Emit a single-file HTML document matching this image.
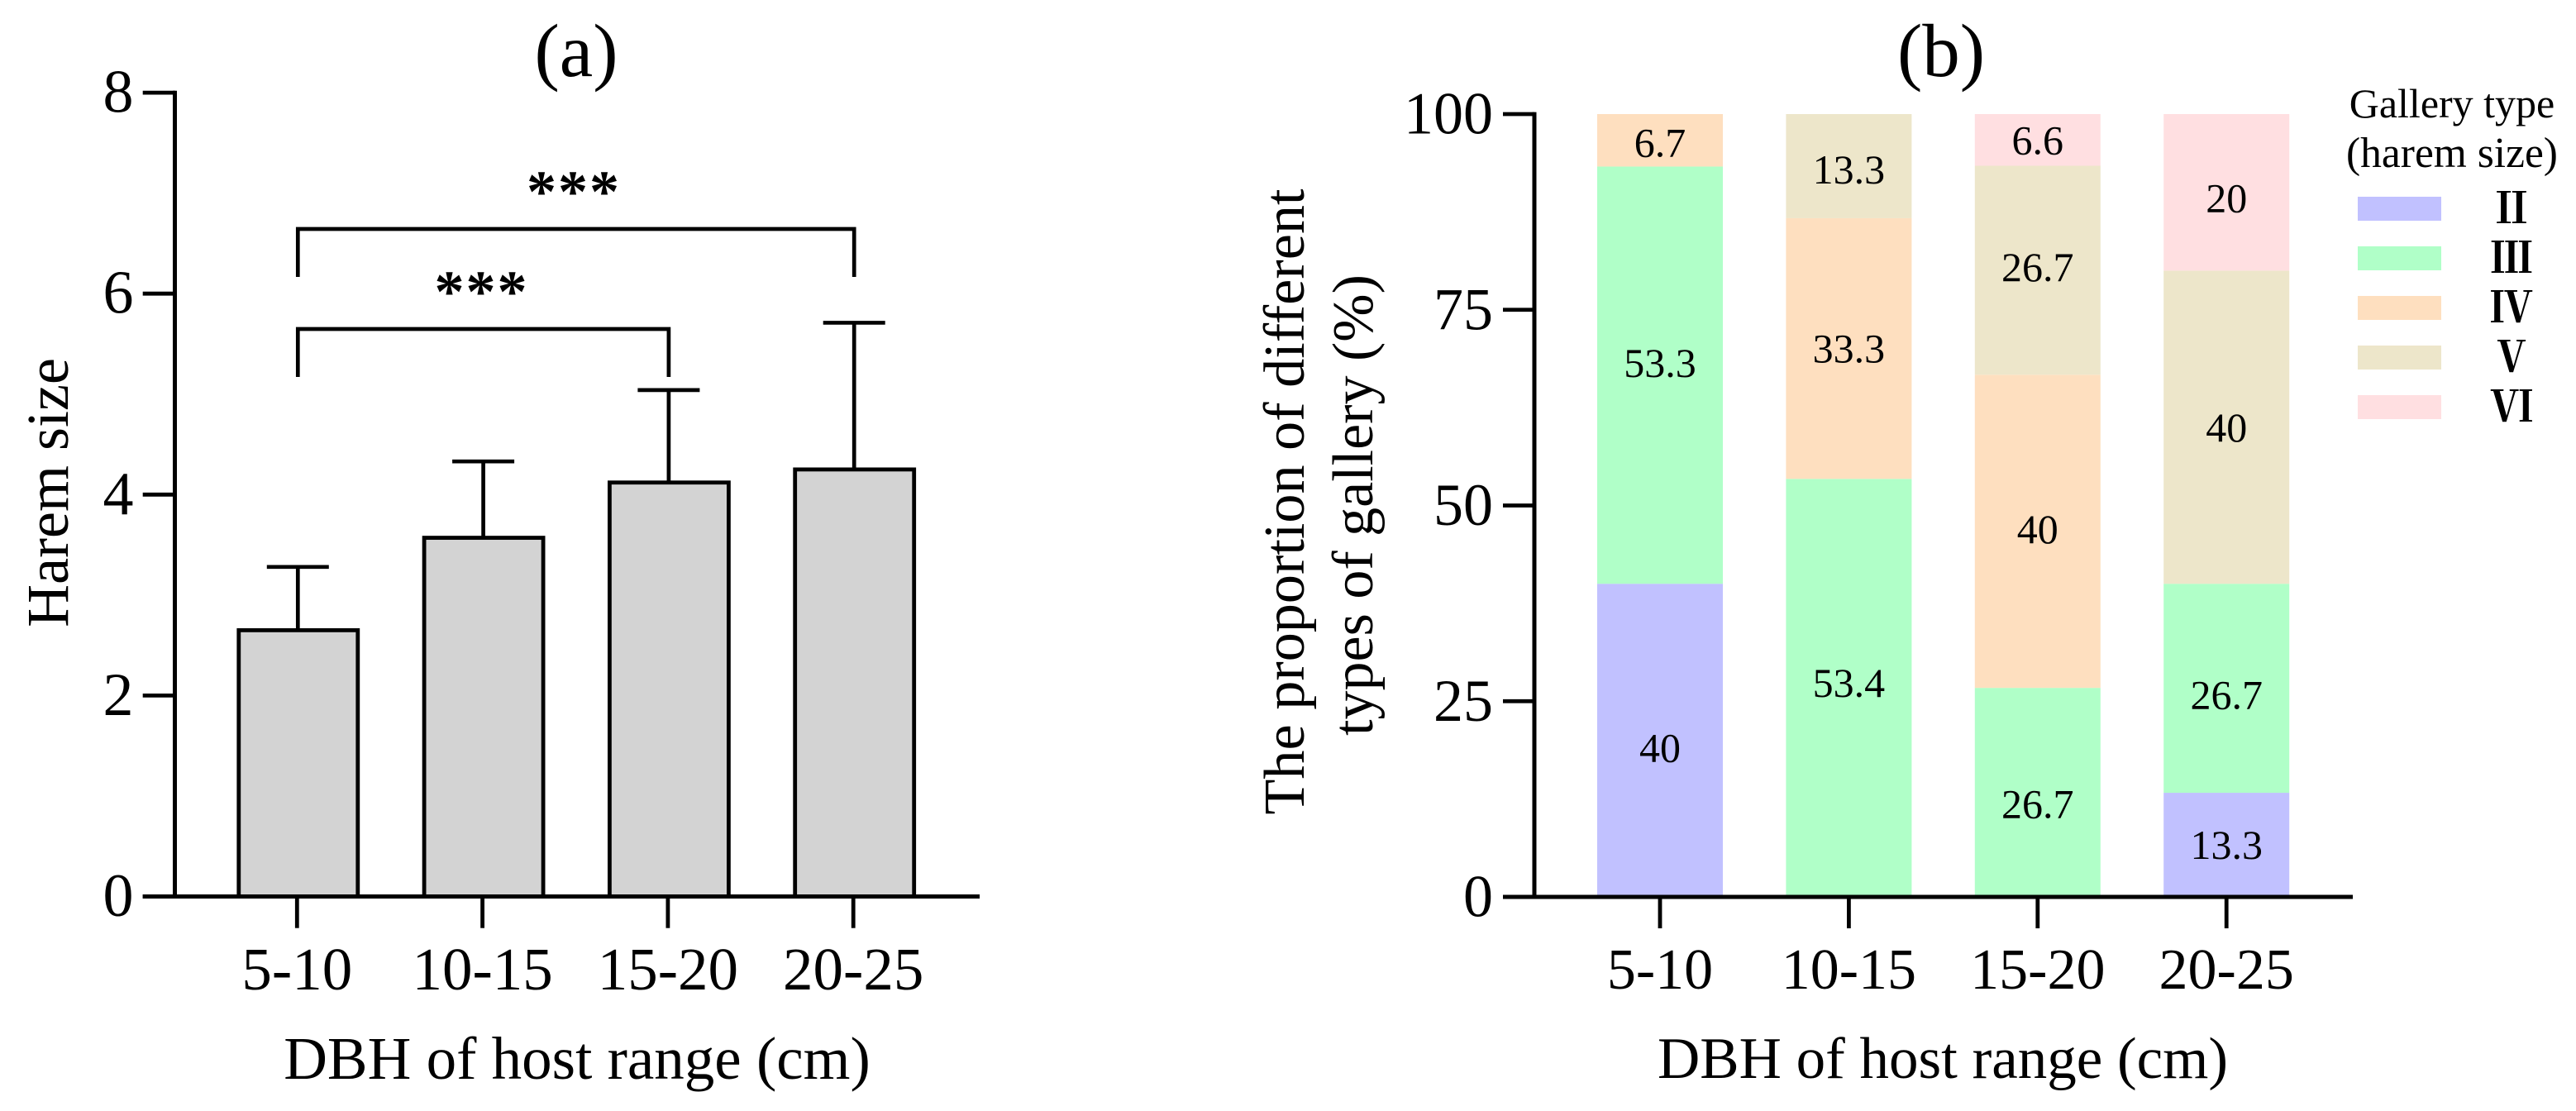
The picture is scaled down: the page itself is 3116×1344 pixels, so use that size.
<!DOCTYPE html>
<html lang="en">
<head>
<meta charset="utf-8">
<title>Harem size and gallery type by DBH of host range</title>
<style>
html,body{margin:0;padding:0;background:#fff;}
svg{display:block;}
text{font-family:"Liberation Serif","Noto Serif CJK SC",serif;fill:#000;}
</style>
</head>
<body>
<svg id="chart" xmlns="http://www.w3.org/2000/svg" width="3116" height="1344" viewBox="0 0 3116 1344">
  <rect x="0" y="0" width="3116" height="1344" fill="#fff"/>
  <g id="panelA">
    <text x="697" y="92" font-size="91" text-anchor="middle">(a)</text>
    <text transform="translate(82 596) rotate(-90)" font-size="72" text-anchor="middle">Harem size</text>
    <text x="698" y="1305" font-size="73" text-anchor="middle">DBH of host range (cm)</text>
  </g>
  <g id="panelB">
    <text x="2348" y="92" font-size="91" text-anchor="middle">(b)</text>
    <text transform="translate(1577 607) rotate(-90)" font-size="70.2" text-anchor="middle">The proportion of different</text>
    <text transform="translate(1660 611) rotate(-90)" font-size="70" text-anchor="middle">types of gallery (%)</text>
    <text x="2350" y="1304" font-size="71" text-anchor="middle">DBH of host range (cm)</text>
  </g>
  <g id="legend">
    <text x="2966" y="142" font-size="50" text-anchor="middle">Gallery type</text>
    <text x="2966" y="202" font-size="51.5" text-anchor="middle">(harem size)</text>
  </g>
</svg>
<script>
// Panel (a) data
var categories = ['5-10', '10-15', '15-20', '20-25'];
var haremMeans = [2.65, 3.57, 4.12, 4.25];
var haremErrors = [0.63, 0.76, 0.92, 1.46];
var haremTicks = [0, 2, 4, 6, 8];

// Panel (b) data
var seriesNames = ['II', 'III', 'IV', 'V', 'VI'];
var seriesGlyphs = ['\u2161', '\u2162', '\u2163', '\u2164', '\u2165'];
var seriesColors = ['#c1c1ff', '#b0ffc8', '#fedfbf', '#ede6ca', '#ffdfe1'];
var seriesII = [40, 0, 0, 13.3];
var seriesIII = [53.3, 53.4, 26.7, 26.7];
var seriesIV = [6.7, 33.3, 40, 0];
var seriesV = [0, 13.3, 26.7, 40];
var seriesVI = [0, 0, 6.6, 20];
var proportionTicks = [0, 25, 50, 75, 100];

var SVGNS = 'http://www.w3.org/2000/svg';
var panelA = document.getElementById('panelA');
var panelB = document.getElementById('panelB');
var legend = document.getElementById('legend');

// Axis functions
function xA(i) { return 359.3 + i * 224.3; }
function yA(v) { return 1084.5 - v * 121.55; }
function xB(i) { return 2008 + i * 228.4; }
function yB(v) { return 1085 - v * 9.47; }

function lineEl(parent, x1, y1, x2, y2, width) {
  var el = document.createElementNS(SVGNS, 'line');
  el.setAttribute('x1', x1);
  el.setAttribute('y1', y1);
  el.setAttribute('x2', x2);
  el.setAttribute('y2', y2);
  el.setAttribute('stroke', '#000');
  el.setAttribute('stroke-width', width);
  parent.appendChild(el);
  return el;
}
function textEl(parent, x, y, size, anchor, content) {
  var el = document.createElementNS(SVGNS, 'text');
  el.setAttribute('x', x);
  el.setAttribute('y', y);
  el.setAttribute('font-size', size);
  el.setAttribute('text-anchor', anchor);
  el.textContent = content;
  parent.appendChild(el);
  return el;
}

// ---------- Panel (a) ----------
categories.forEach(function (cat, i) {
  var cx = xA(i);
  var top = yA(haremMeans[i]);
  var errTop = yA(haremMeans[i] + haremErrors[i]);

  var errStem = lineEl(panelA, cx + 1, top, cx + 1, errTop, 4.7);
  
  

  var errCap = lineEl(panelA, cx - 36.5, errTop, cx + 38.5, errTop, 4.7);
  
  

  var bar = document.createElementNS(SVGNS, 'rect');
  bar.setAttribute('x', cx + 1.5 - 72);
  bar.setAttribute('y', top);
  bar.setAttribute('width', 144);
  bar.setAttribute('height', yA(0) - top);
  bar.setAttribute('fill', '#d3d3d3');
  bar.setAttribute('stroke', '#000');
  bar.setAttribute('stroke-width', 4.8);
  
  
  panelA.appendChild(bar);

  var tick = lineEl(panelA, cx, yA(0), cx, 1122.7, 4.8);
  
  

  var label = textEl(panelA, cx, 1197, 73, 'middle', cat);
  
  
});

haremTicks.forEach(function (t) {
  var tick = lineEl(panelA, 172.7, yA(t), 212, yA(t), 4.8);
  
  

  var label = textEl(panelA, 161.5, yA(t) + 23.5, 74, 'end', String(t));
  
  
});

var axisAY = lineEl(panelA, 211.5, yA(8) - 2.4, 211.5, yA(0) + 2.5, 5);



var axisAX = lineEl(panelA, 172.7, yA(0), 1185, yA(0), 5);



// Significance brackets
var bracketLong = document.createElementNS(SVGNS, 'path');
bracketLong.setAttribute('d', 'M' + (xA(0) + 1) + ' 335V277H' + (xA(3) + 1) + 'V335');
bracketLong.setAttribute('fill', 'none');
bracketLong.setAttribute('stroke', '#000');
bracketLong.setAttribute('stroke-width', 4.7);


panelA.appendChild(bracketLong);

var bracketShort = document.createElementNS(SVGNS, 'path');
bracketShort.setAttribute('d', 'M' + (xA(0) + 1) + ' 456V398H' + (xA(2) + 1) + 'V456');
bracketShort.setAttribute('fill', 'none');
bracketShort.setAttribute('stroke', '#000');
bracketShort.setAttribute('stroke-width', 4.7);


panelA.appendChild(bracketShort);

var starsLong = textEl(panelA, 694, 256, 72, 'middle', '***');
starsLong.setAttribute('font-weight', 'bold');
starsLong.setAttribute('letter-spacing', '2');



var starsShort = textEl(panelA, 582.5, 377, 72, 'middle', '***');
starsShort.setAttribute('font-weight', 'bold');
starsShort.setAttribute('letter-spacing', '2');



// ---------- Panel (b) ----------
var stackSeries = [seriesII, seriesIII, seriesIV, seriesV, seriesVI];
// Hand placement of printed labels relative to their segment centre (layout, not data)
var labelShiftII = [9, 0, 0, 0];
var labelShiftIII = [-15, -6, 14, 8];
var labelShiftIV = [3, 0, -3, 0];
var labelShiftV = [0, 4, -4, 0];
var labelShiftVI = [0, 0, 0, 7];
var labelShifts = [labelShiftII, labelShiftIII, labelShiftIV, labelShiftV, labelShiftVI];

categories.forEach(function (cat, i) {
  var cx = xB(i);
  var base = 0;
  stackSeries.forEach(function (values, s) {
    var v = values[i];
    if (!v) { return; }
    var yTop = yB(base + v);
    var yBottom = yB(base);

    var seg = document.createElementNS(SVGNS, 'rect');
    seg.setAttribute('x', cx - 76);
    seg.setAttribute('y', yTop);
    seg.setAttribute('width', 152);
    seg.setAttribute('height', yBottom - yTop);
    seg.setAttribute('fill', seriesColors[s]);
    
    
    panelB.appendChild(seg);

    var label = textEl(panelB, cx, (yTop + yBottom) / 2 + 17 + labelShifts[s][i], 50, 'middle', String(v));
    
    

    base += v;
  });

  var tick = lineEl(panelB, cx, yB(0), cx, 1123, 4.8);
  
  

  var xLabel = textEl(panelB, cx, 1196, 70, 'middle', cat);
  
  
});

proportionTicks.forEach(function (t) {
  var tick = lineEl(panelB, 1818, yB(t), 1856, yB(t), 4.8);
  
  

  var label = textEl(panelB, 1806, yB(t) + 23.5, 72, 'end', String(t));
  
  
});

var axisBY = lineEl(panelB, 1856, yB(100) - 2.4, 1856, yB(0) + 2.5, 5);



var axisBX = lineEl(panelB, 1818, yB(0), 2846, yB(0), 5);



// ---------- Legend ----------
seriesNames.forEach(function (name, s) {
  var row = 238 + s * 60;

  var swatch = document.createElementNS(SVGNS, 'rect');
  swatch.setAttribute('x', 2852);
  swatch.setAttribute('y', row);
  swatch.setAttribute('width', 101);
  swatch.setAttribute('height', 29);
  swatch.setAttribute('fill', seriesColors[s]);
  
  
  legend.appendChild(swatch);

  var label = textEl(legend, 3038, row + 32, 52, 'middle', seriesGlyphs[s]);
  label.setAttribute('font-family', '"Noto Serif CJK SC", serif');
  label.setAttribute('style', 'font-family:"Noto Serif CJK SC",serif;font-weight:700;');
  
  
});
</script>
</body>
</html>
